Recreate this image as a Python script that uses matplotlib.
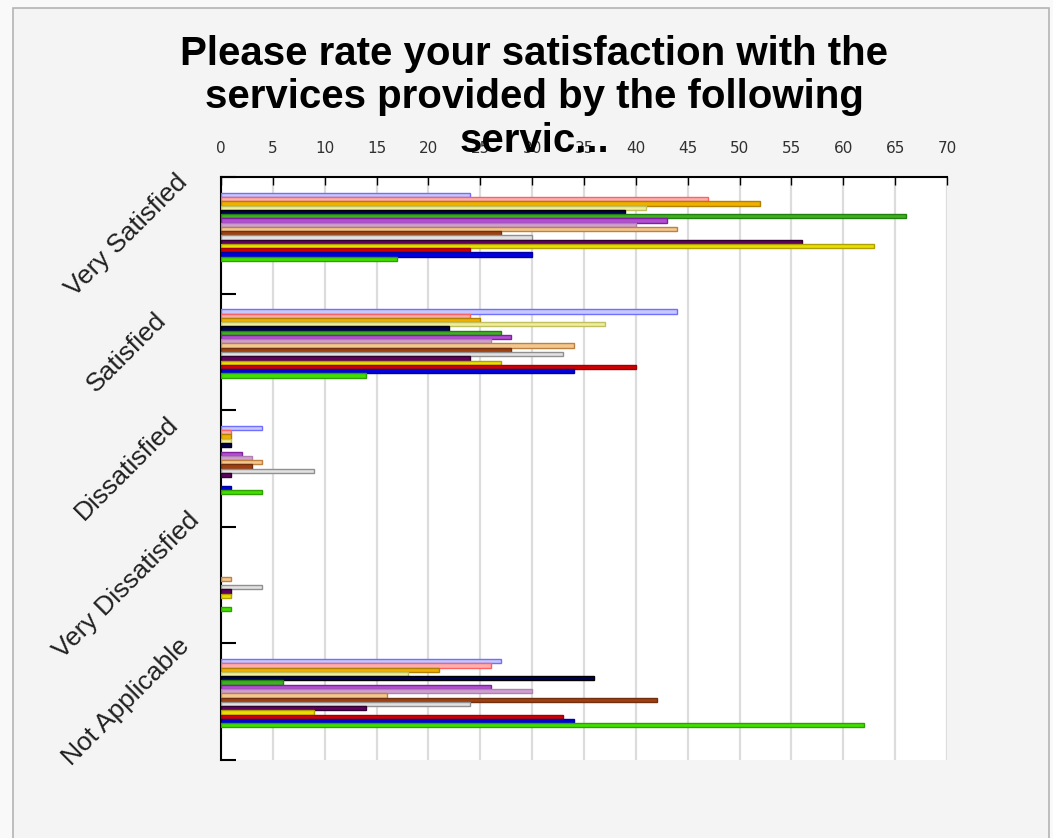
import matplotlib.pyplot as plt
import matplotlib.patches as patches
import numpy as np

categories = ["Very Satisfied", "Satisfied", "Dissatisfied", "Very Dissatisfied", "Not Applicable"]

# one value per service, in the same order for every answer
very_satisfied = [24, 47, 52, 41, 39, 66, 43, 40, 44, 27, 30, 56, 63, 24, 30, 17]
satisfied = [44, 24, 25, 37, 22, 27, 28, 26, 34, 28, 33, 24, 27, 40, 34, 14]
dissatisfied = [4, 1, 1, 1, 1, 0, 2, 3, 4, 3, 9, 1, 0, 0, 1, 4]
very_dissatisfied = [0, 0, 0, 0, 0, 0, 0, 0, 1, 0, 4, 1, 1, 0, 0, 1]
not_applicable = [27, 26, 21, 18, 36, 6, 26, 30, 16, 42, 24, 14, 9, 33, 34, 62]

fills = ['#c8c8ff', '#ffb0b0', '#f0b000', '#eeee9c', '#000050', '#40b020', '#b050d0', '#d0a0d0',
         '#f2c890', '#a04010', '#e2e2e2', '#600060', '#e8e000', '#d00000', '#0000e0', '#40e000']
edges = ['#7070ff', '#ff6060', '#b08000', '#c0c060', '#000000', '#208010', '#8020a0', '#b080b0',
         '#c08040', '#703010', '#909090', '#300030', '#b0a000', '#a00000', '#0000a0', '#30a000']

table = np.array([very_satisfied, satisfied, dissatisfied, very_dissatisfied, not_applicable])
n_series = table.shape[1]

fig = plt.figure(figsize=(10.53, 8.38), dpi=100)
fig.patch.set_facecolor('#f9f9f9')
fig.patches.append(patches.Rectangle((13 / 1053, -0.05), (1049 - 13) / 1053, (838 - 8) / 838 + 0.05,
                                     transform=fig.transFigure, facecolor='#f4f4f4',
                                     edgecolor='#b4b4b4', linewidth=1.2, zorder=-1))

ax = fig.add_axes([221 / 1053, (838 - 760) / 838, 726 / 1053, 583 / 838])
ax.set_facecolor('white')

bar_h = 0.0366
top_pad = 0.135
for j in range(n_series):
    ys = np.arange(len(categories)) + top_pad + (j + 0.5) * bar_h
    vals = table[:, j]
    keep = vals > 0  # empty answers get no bar at all
    ax.barh(ys[keep], vals[keep], height=bar_h, color=fills[j], edgecolor=edges[j],
            linewidth=1.0, zorder=3)

ax.set_xlim(0, 70)
ax.set_ylim(len(categories), 0)
ax.set_xticks(np.arange(0, 71, 5))
ax.xaxis.tick_top()
ax.tick_params(axis='x', direction='in', length=6, width=1, pad=15,
               labelsize=11, labelcolor='#303030')
ax.set_yticks(np.arange(0, len(categories) + 1))
ax.set_yticklabels([])
ax.tick_params(axis='y', direction='in', length=11, width=1.5)
ax.grid(axis='x', color='#dcdcdc', linewidth=1.6, zorder=0)
ax.set_axisbelow(True)

for side in ['right', 'bottom']:
    ax.spines[side].set_visible(False)
for side in ['top', 'left']:
    ax.spines[side].set_linewidth(1.5)
    ax.spines[side].set_color('black')

for i, name in enumerate(categories):
    ax.text(-0.13, i + 0.5, name, transform=ax.get_yaxis_transform(), rotation=45,
            ha='center', va='center', fontsize=19, family='Liberation Sans', color='#202020')

title_lines = ["Please rate your satisfaction with the",
               "services provided by the following",
               "servic..."]
for k, line in enumerate(title_lines):
    fig.text(534 / 1053, (838 - (65 + 43.5 * k)) / 838, line, ha='center', va='baseline',
             fontsize=29, fontweight='bold', family='Liberation Sans', color='black', zorder=5)

fig.savefig('out.png', dpi=100, facecolor=fig.get_facecolor())
